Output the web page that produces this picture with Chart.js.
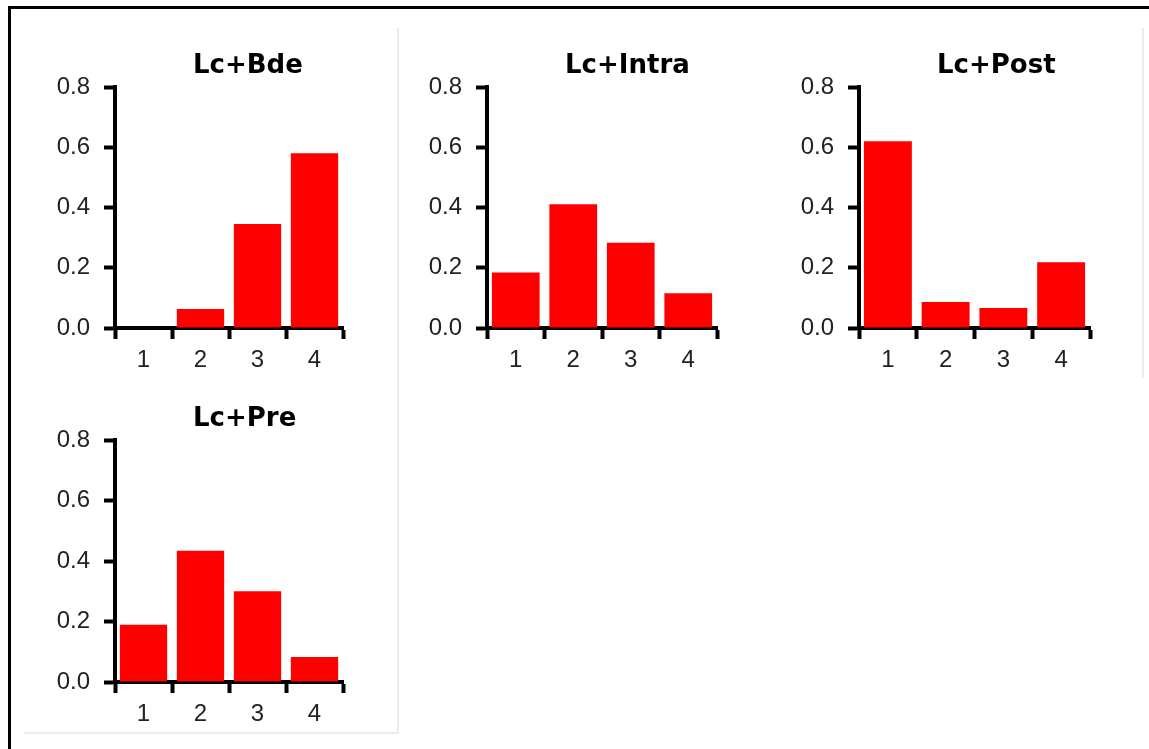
<!DOCTYPE html>
<html>
<head>
<meta charset="utf-8">
<script src="https://cdn.jsdelivr.net/npm/chart.js@4.4.1/dist/chart.umd.min.js"></script>
<style>
  html, body { margin: 0; padding: 0; background: #fff; width: 1149px; height: 749px; overflow: hidden; }
  .frame { position: absolute; left: 8px; top: 6px; width: 1200px; height: 800px;
           border-left: 3px solid #000; border-top: 3px solid #000; }
  .panelbox { position: absolute; box-sizing: border-box; }
  canvas { position: absolute; }
</style>
</head>
<body>
<div class="frame"></div>
<div class="panelbox" style="left:24px;top:28px;width:375px;height:706px;border-right:2px solid #ececec;border-bottom:2px solid #ececec;"></div>
<div class="panelbox" style="left:397px;top:28px;width:747px;height:350px;border-right:2px solid #ececec;"></div>
<canvas id="c1"></canvas>
<canvas id="c2"></canvas>
<canvas id="c3"></canvas>
<canvas id="c4"></canvas>
<script>
// ---- data ----
const categories = ['1', '2', '3', '4'];
const bdeValues   = [0.0,   0.063, 0.345, 0.580];
const intraValues = [0.184, 0.411, 0.283, 0.115];
const postValues  = [0.620, 0.086, 0.066, 0.218];
const preValues   = [0.189, 0.434, 0.300, 0.083];
const yTickValues = [0.0, 0.2, 0.4, 0.6, 0.8];
const panelTitles = ['Lc+Bde', 'Lc+Intra', 'Lc+Post', 'Lc+Pre'];

// ---- layout (chart-area targets) ----
const panels = [
  { id: 'c1', title: panelTitles[0], values: bdeValues,   L: 115, R: 343,  T: 87,  B: 328 },
  { id: 'c2', title: panelTitles[1], values: intraValues, L: 487, R: 717,  T: 87,  B: 328 },
  { id: 'c3', title: panelTitles[2], values: postValues,  L: 859, R: 1090, T: 87,  B: 328 },
  { id: 'c4', title: panelTitles[3], values: preValues,   L: 115, R: 343,  T: 440, B: 682 }
];
const Y_W = 70, X_H = 50, PAD_T = 60, PAD_R = 20;

const titlePlugin = {
  id: 'panelTitle',
  afterDraw(chart, args, opts) {
    const ctx = chart.ctx, a = chart.chartArea;
    ctx.save();
    ctx.font = 'bold 26px "DejaVu Sans", sans-serif';
    ctx.fillStyle = '#000';
    ctx.textAlign = 'left';
    ctx.textBaseline = 'alphabetic';
    ctx.fillText(opts.text, a.left + 78, a.top - 14);
    ctx.restore();
  }
};

panels.forEach(p => {
  const cv = document.getElementById(p.id);
  const left = p.L - Y_W, top = p.T - PAD_T;
  const w = p.R - left + PAD_R, h = p.B - top + X_H;
  cv.width = w; cv.height = h;
  cv.style.left = left + 'px'; cv.style.top = top + 'px';
  cv.style.width = w + 'px'; cv.style.height = h + 'px';

  new Chart(cv, {
    type: 'bar',
    data: {
      labels: categories,
      datasets: [{
        data: p.values,
        backgroundColor: '#ff0000',
        borderWidth: 0,
        categoryPercentage: 1.0,
        barPercentage: 0.83
      }]
    },
    plugins: [titlePlugin],
    options: {
      responsive: false,
      animation: false,
      devicePixelRatio: 1,
      layout: { padding: { left: 0, top: PAD_T, right: PAD_R, bottom: 0 } },
      plugins: {
        legend: { display: false },
        tooltip: { enabled: false },
        title: { display: false },
        panelTitle: { text: p.title }
      },
      scales: {
        x: {
          afterFit(s) { s.height = X_H; },
          grid: { display: true, drawOnChartArea: false, drawTicks: true, tickLength: 11,
                  tickWidth: 4, color: '#000', offset: true },
          border: { display: true, color: '#000', width: 4 },
          ticks: { color: '#222', padding: 7,
                   font: { family: '"Liberation Sans", Arial, sans-serif', size: 24 } }
        },
        y: {
          min: yTickValues[0],
          max: yTickValues[yTickValues.length - 1],
          afterFit(s) { s.width = Y_W; },
          afterBuildTicks(s) { s.ticks = yTickValues.map(v => ({ value: v })); },
          grid: { display: true, drawOnChartArea: false, drawTicks: true, tickLength: 11,
                  tickWidth: 4, color: '#000' },
          border: { display: true, color: '#000', width: 4 },
          ticks: { color: '#222', padding: 14,
                   callback: v => Number(v).toFixed(1),
                   font: { family: '"Liberation Sans", Arial, sans-serif', size: 24 } }
        }
      }
    }
  });
});
</script>
</body>
</html>
